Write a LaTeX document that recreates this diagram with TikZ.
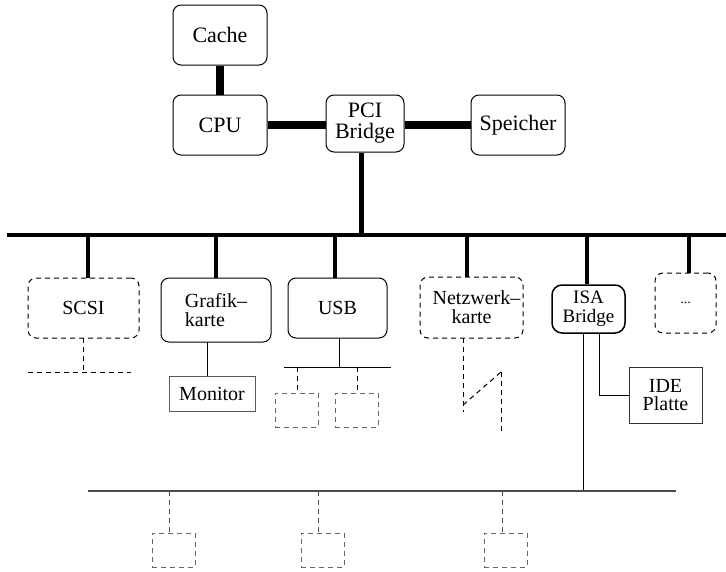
\documentclass[tikz,border=0pt]{standalone}
\usepackage{fontspec}
\setmainfont{Liberation Serif}
\begin{document}
\begin{tikzpicture}[x=1pt,y=-1pt,
  box/.style={draw, rounded corners=8pt, line width=1pt, inner sep=0pt, align=center,
    font=\fontsize{20}{19}\selectfont},
  bigbox/.style={box, font=\fontsize{22}{21}\selectfont},
  dbox/.style={box, dash pattern=on 5pt off 4pt},
  sqbox/.style={draw, line width=1pt, inner sep=0pt, align=center, font=\fontsize{20}{18.5}\selectfont},
  smallbox/.style={draw=black!60, line width=1pt, dash pattern=on 5pt off 4pt, minimum width=43pt, minimum height=34pt, inner sep=0pt},
  fat/.style={line width=8pt},
  bus/.style={line width=4pt},
  drop/.style={line width=3.5pt},
  thin/.style={line width=1pt},
  dthin/.style={line width=1pt, dash pattern=on 5pt off 4pt},
]
\useasboundingbox (0,0) rectangle (726,571);

% top row
\node[bigbox, minimum width=94pt, minimum height=60pt] (cache) at (220,35) {Cache};
\node[bigbox, minimum width=94pt, minimum height=60pt] (cpu) at (220,125) {CPU};
\node[bigbox, minimum width=78pt, minimum height=57pt] (pci) at (365,123.5) {PCI\\Bridge};
\node[bigbox, minimum width=94pt, minimum height=60pt] (mem) at (518,125) {Speicher};

\draw[fat] (cache) -- (cpu);
\draw[fat] (cpu.east) -- (pci.west |- cpu.east);
\draw[fat] (pci.east |- mem.west) -- (mem.west);

% main bus
\coordinate (busL) at (7,235);
\coordinate (busR) at (726,235);
\draw[bus] (busL) -- (busR);
\coordinate (pb) at (361,235);
\draw[line width=5pt] (pb |- pci.south) -- (pb);

% second row
\node[dbox, minimum width=111pt, minimum height=60pt] (scsi) at (83.5,308) {SCSI};
\node[box, minimum width=110pt, minimum height=64pt, align=left] (grafik) at (216,310) {Grafik–\\karte};
\node[box, minimum width=99pt, minimum height=60pt] (usb) at (337.5,308) {USB};
\node[dbox, minimum width=103pt, minimum height=61pt] (netz) at (471.5,307.5) {Netzwerk\rlap{–}\\karte};
\node[box, line width=1.5pt, rounded corners=10pt, minimum width=73pt, minimum height=48pt,
      font=\fontsize{19}{18.5}\selectfont] (isa) at (588.5,309) {ISA\\Bridge};
\node[dbox, minimum width=61pt, minimum height=60pt, font=\fontsize{14}{14}\selectfont] (more) at (685.5,303) {...};

% drops from main bus
\coordinate (d1) at (88,235);
\coordinate (d2) at (216,235);
\coordinate (d3) at (335,235);
\coordinate (d4) at (467,235);
\coordinate (d5) at (587,235);
\coordinate (d6) at (689,235);
\draw[drop] (d1) -- (d1 |- scsi.north);
\draw[drop] (d2) -- (d2 |- grafik.north);
\draw[drop] (d3) -- (d3 |- usb.north);
\draw[drop] (d4) -- (d4 |- netz.north);
\draw[drop] (d5) -- (d5 |- isa.north);
\draw[drop] (d6) -- (d6 |- more.north);

% SCSI below
\coordinate (s1) at (83,338);
\coordinate (s2) at (83,372);
\coordinate (s3) at (28,372);
\coordinate (s4) at (131,372);
\draw[dthin] (s1) -- (s2);
\draw[dthin] (s3) -- (s4);

% Grafik - Monitor
\node[sqbox, draw=black!65, minimum width=86pt, minimum height=35pt] (mon) at (212,393.5) {Monitor};
\coordinate (g1) at (207,342);
\draw[thin] (g1) -- (g1 |- mon.north);

% USB below
\coordinate (u0) at (339,338);
\coordinate (u1) at (339,367);
\coordinate (uL) at (284,367);
\coordinate (uR) at (391,367);
\draw[thin] (u0) -- (u1);
\draw[thin] (uL) -- (uR);
\node[smallbox] (ub1) at (296.5,410) {};
\node[smallbox] (ub2) at (356.5,410) {};
\coordinate (ua) at (297,367);
\coordinate (ub) at (357,367);
\draw[dthin] (ua) -- (ua |- ub1.north);
\draw[dthin] (ub) -- (ub |- ub2.north);

% Netzwerk below
\coordinate (n1) at (463,338);
\coordinate (n2) at (463,412);
\coordinate (n3) at (463,405);
\coordinate (n4) at (501,372);
\coordinate (n5) at (501,432);
\draw[dthin] (n1) -- (n2);
\draw[dthin] (n3) -- (n4);
\draw[dthin] (n4) -- (n5);

% ISA below
\node[sqbox, draw=black!80, minimum width=73pt, minimum height=56pt] (ide) at (665.5,395) {IDE\\Platte};
\coordinate (i1) at (583,333);
\coordinate (i2) at (583,491);
\coordinate (i3) at (599,333);
\coordinate (i4) at (599,395);
\draw[thin] (i1) -- (i2);
\draw[thin] (i3) -- (i4) -- (ide.west);

% bottom bus
\coordinate (bL) at (88,491);
\coordinate (bR) at (676,491);
\draw[line width=1.2pt, black!70] (bL) -- (bR);
\node[smallbox] (bb1) at (173.5,550) {};
\node[smallbox] (bb2) at (322.5,550) {};
\node[smallbox] (bb3) at (505.5,550) {};
\coordinate (e1) at (169,491);
\coordinate (e2) at (318,491);
\coordinate (e3) at (502,491);
\draw[dthin, black!70] (e1) -- (e1 |- bb1.north);
\draw[dthin, black!70] (e2) -- (e2 |- bb2.north);
\draw[dthin, black!70] (e3) -- (e3 |- bb3.north);
\end{tikzpicture}
\end{document}
